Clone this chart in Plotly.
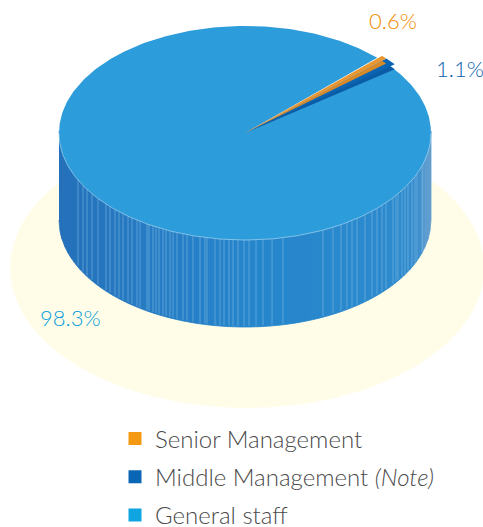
import numpy as np
import plotly.graph_objects as go

# ---- data ----
categories = ["Senior Management", "Middle Management <i>(Note)</i>", "General staff"]
values = [0.6, 1.1, 98.3]
value_labels = ["0.6%", "1.1%", "98.3%"]

# ---- styles ----
legend_colors = ["#F39A12", "#0A66B5", "#0EA5E0"]
label_colors = ["#F08C00", "#0B5FAE", "#0A9FDC"]
top_color = "#2D9CDB"
FONT = "Lato Light, Lato, sans-serif"

# ---- geometry, pixel space ----
W, H = 483, 527
CX, CY, RX, RY, DEPTH = 245, 133, 186, 107, 87
SX, SY, SRX, SRY = 247, 268, 237, 140
START = 44.7     # angle where the first slice starts
EXPLODE = 1.03
LIFT = 5

# Irregular pale facet lines of the pie wall
FACET_X = [78, 83, 87, 92, 98, 106, 110, 115, 119, 123, 128, 132, 137, 140, 147, 149,
           153, 156, 159, 163, 166, 170, 173, 177, 183, 187, 193, 200, 205, 207, 215,
           220, 224, 229, 233, 238, 244, 249, 256, 263, 272, 283, 323, 333, 341, 347,
           352, 357, 365, 372, 377, 382, 386, 393, 396, 398, 402, 405, 408, 412, 415,
           417, 422]


def ell(a_deg, r=1.0, cx=CX, cy=CY, rx=RX, ry=RY):
    a = np.radians(a_deg)
    return cx + r * rx * np.cos(a), cy - r * ry * np.sin(a)


def front_y(x):
    return CY + RY * np.sqrt(np.clip(1 - ((x - CX) / RX) ** 2, 0, 1))


def mix(c1, c2, t):
    return "rgb(%d,%d,%d)" % tuple(round(a + (b - a) * t) for a, b in zip(c1, c2))


def wall_color(x):
    stops = [(59, (37, 112, 186)), (150, (38, 124, 196)), (260, (38, 134, 204)),
             (400, (45, 138, 205)), (420, (60, 142, 206)), (424, (92, 157, 208)), (431, (98, 158, 207))]
    for (x0, c0), (x1, c1) in zip(stops, stops[1:]):
        if x <= x1:
            return mix(c0, c1, (x - x0) / (x1 - x0))
    return mix(stops[-1][1], stops[-1][1], 0)


fig = go.Figure()


def poly(xs, ys, color, line=0.0):
    fig.add_trace(go.Scatter(x=list(xs), y=list(ys), mode="lines", fill="toself", fillcolor=color,
                             line=dict(color=color, width=line), hoverinfo="skip", showlegend=False))


# Pale ground shadow
a = np.linspace(0, 360, 241)
sx, sy = ell(a, cx=SX, cy=SY, rx=SRX, ry=SRY)
poly(sx, sy, "#FFFDE8")

# Wall of the cylinder
edges = np.arange(CX - RX, CX + RX + 0.1, 3.0)
for x0, x1 in zip(edges[:-1], edges[1:]):
    xs = np.linspace(x0, x1, 4)
    yt, yb = front_y(xs) - 2, front_y(xs) + DEPTH
    poly(np.r_[xs, xs[::-1]], np.r_[yt, yb[::-1]], wall_color((x0 + x1) / 2), 0.8)

# Facet lines
fx, fy = [], []
for x in FACET_X:
    fx += [x, x, None]
    fy += [front_y(x), front_y(x) + DEPTH - 1, None]
fig.add_trace(go.Scatter(x=fx, y=fy, mode="lines", line=dict(color="rgba(140,195,232,0.5)", width=1),
                         hoverinfo="skip", showlegend=False))

# Slice angles follow from the values
deg = [v / sum(values) * 360 for v in values]
a0 = START
a1 = a0 - deg[0]
a2 = a1 - deg[1]

# Top: general staff
arc = np.linspace(a2 - deg[2], a2, 361)
tx, ty = ell(arc)
poly(np.r_[CX, tx, CX], np.r_[CY, ty, CY], top_color)

# Light rim along the front edge
arc = np.linspace(180, 360, 181)
tx, ty = ell(arc)
fig.add_trace(go.Scatter(x=tx, y=ty, mode="lines", line=dict(color="rgba(165,212,240,0.7)", width=1),
                         hoverinfo="skip", showlegend=False))


def wedge(a_hi, a_lo, top, side):
    arc = np.linspace(a_hi, a_lo, 8)
    wx, wy = ell(arc, EXPLODE)
    poly(np.r_[CX, wx, CX], np.r_[CY, wy + LIFT, CY], side)
    poly(np.r_[CX, wx, CX], np.r_[CY, wy, CY], top)


wedge(a1, a2, "#0A66B5", "#0B5CA6")
wedge(a0, a1, "#E8962F", "#D98A26")

# Legend entries
for name, color in zip(categories, legend_colors):
    fig.add_trace(go.Scatter(x=[None], y=[None], mode="markers", name=name, legendgroup=name,
                             marker=dict(symbol="square", size=13, color=color)))

# Value labels
pos = [(393, 20), (460, 68), (70, 317)]
annotations = [dict(x=x, y=y, text=t, showarrow=False, xanchor="center", yanchor="middle",
                    font=dict(family=FONT, size=22, color=c))
               for (x, y), t, c in zip(pos, value_labels, label_colors)]

fig.update_layout(
    width=W, height=H, margin=dict(l=0, r=0, t=0, b=0, autoexpand=False),
    paper_bgcolor="white", plot_bgcolor="white",
    xaxis=dict(range=[0, W], visible=False, fixedrange=True),
    yaxis=dict(range=[H, 0], visible=False, fixedrange=True),
    annotations=annotations,
    showlegend=True,
    legend=dict(x=115 / W, y=1 - 416.5 / H, xanchor="left", yanchor="top",
                font=dict(family=FONT, size=24, color="#4A4A4A"),
                traceorder="grouped", tracegroupgap=4, itemwidth=30,
                bgcolor="rgba(0,0,0,0)", borderwidth=0),
)
fig.write_html("out.html", config={"displayModeBar": False},
               post_script="document.body.style.margin='0';document.body.style.overflow='hidden';")
